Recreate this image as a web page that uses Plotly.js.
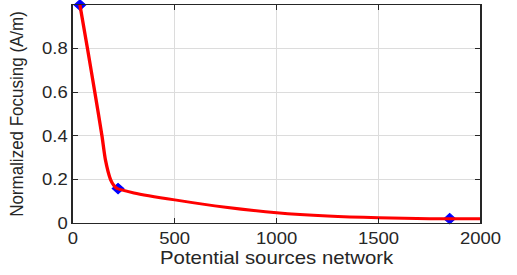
<!DOCTYPE html>
<html>
<head>
<meta charset="utf-8">
<script src="https://cdn.plot.ly/plotly-3.0.1.min.js"></script>
<style>
  html, body { margin: 0; padding: 0; background: #fff; overflow: hidden; }
  #chart { width: 462px; height: 275px; transform: scaleX(1.12); transform-origin: 0 0; }
</style>
</head>
<body>
<div id="chart"></div>
<script>
// Fitted curve
const curveX = [35, 72, 108, 143, 160, 185, 201, 218, 300, 500, 750, 1000, 1250, 1500, 1750, 2000];
const curveY = [1.0, 0.8, 0.6, 0.4, 0.29, 0.2, 0.173, 0.158, 0.138, 0.106, 0.072, 0.047, 0.032, 0.024, 0.02, 0.019];
// Measured points
const pointX = [35, 222, 1849];
const pointY = [1.0, 0.158, 0.02];
const xTickVals = [0, 500, 1000, 1500, 2000];
const yTickVals = [0, 0.2, 0.4, 0.6, 0.8, 1];
const yTickText = ['0', '0.2', '0.4', '0.6', '0.8', '1'];

const axisColor = '#262626';
const traces = [
  {
    x: pointX, y: pointY, mode: 'markers', type: 'scatter',
    marker: { symbol: 'diamond', size: 8, color: '#0000ff', line: { color: '#0000ff', width: 1 } },
    cliponaxis: false, showlegend: false, hoverinfo: 'skip'
  },
  {
    x: curveX, y: curveY, mode: 'lines', type: 'scatter',
    line: { color: '#ff0000', width: 3, shape: 'spline', smoothing: 0.6 },
    showlegend: false, hoverinfo: 'skip'
  }
];

const layout = {
  width: 462, height: 275,
  margin: { l: 65, r: 33, t: 5, b: 52, pad: 0 },
  paper_bgcolor: '#ffffff', plot_bgcolor: '#ffffff',
  font: { family: 'Liberation Sans, Arial, sans-serif', color: axisColor },
  xaxis: {
    range: [0, 2000], tickvals: xTickVals, ticktext: xTickVals.map(String),
    ticks: 'inside', ticklen: 5, tickwidth: 1.2, tickcolor: axisColor,
    showline: true, linecolor: axisColor, linewidth: 1.3, mirror: 'ticks',
    showgrid: true, gridcolor: '#dcdcdc', gridwidth: 1, zeroline: false,
    tickfont: { size: 16.5, color: axisColor },
    title: { text: 'Potential sources network', font: { size: 18.2, color: axisColor }, standoff: 5 },
    automargin: false, fixedrange: true
  },
  yaxis: {
    range: [0, 1], tickvals: yTickVals, ticktext: yTickText,
    ticks: 'inside', ticklen: 5, tickwidth: 1.2, tickcolor: axisColor,
    showline: true, linecolor: axisColor, linewidth: 1.3, mirror: 'ticks',
    showgrid: true, gridcolor: '#dcdcdc', gridwidth: 1, zeroline: false,
    tickfont: { size: 16.5, color: axisColor },
    title: { text: 'Normalized Focusing (A/m)', font: { size: 17, color: axisColor }, standoff: 12 },
    automargin: false, fixedrange: true
  }
};

Plotly.newPlot('chart', traces, layout, { staticPlot: true, displayModeBar: false });
</script>
</body>
</html>
